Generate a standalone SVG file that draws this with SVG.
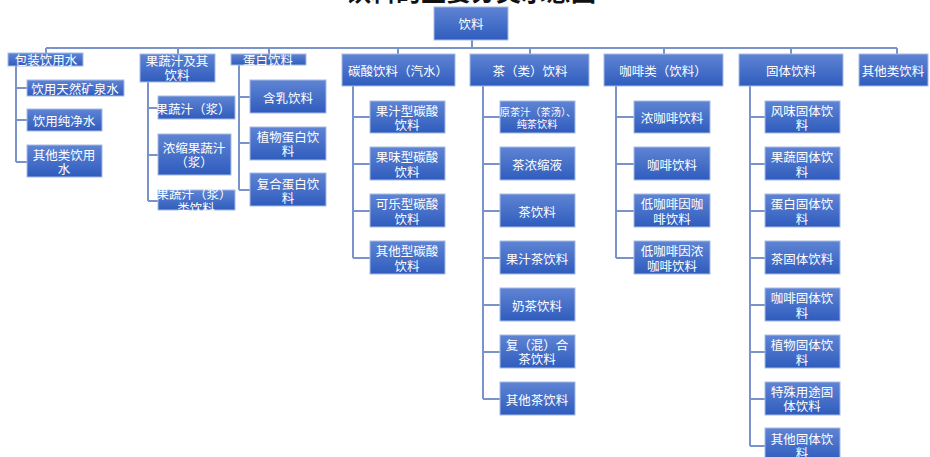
<svg xmlns="http://www.w3.org/2000/svg" width="930" height="457" viewBox="0 0 930 457">
<style>
.box{fill:url(#g);stroke:#a7bbe6;stroke-width:1}
.t{font-family:"Noto Sans CJK SC","Noto Sans",sans-serif;font-size:12.5px;fill:#ffffff;text-anchor:middle;dominant-baseline:central}
.s{font-size:10.2px}
.title{font-family:"Noto Sans CJK SC","Noto Sans",sans-serif;font-size:25px;font-weight:bold;fill:#111111;text-anchor:middle}
.c{fill:none;stroke:#7b93cb;stroke-width:2}
</style>
<defs>
<linearGradient id="g" x1="0" y1="0" x2="0" y2="1">
<stop offset="0" stop-color="#5f84d4"/>
<stop offset="1" stop-color="#2f5cbd"/>
</linearGradient>
</defs>
<rect x="0" y="0" width="930" height="457" fill="#ffffff"/>
<text class="title" x="471" y="1">饮料的主要分类示意图</text>
<g id="connectors">
<path class="c" d="M472 40V48M46 48H897M46 48V53M178 48V54M269 48V54M398 48V54M530 48V54M664 48V54M791 48V54M897 48V54"/>
<path class="c" d="M16 66V162M16 88H27M16 120H27M16 162H27"/>
<path class="c" d="M148 82V201M148 108H158M148 155H158M148 201H158"/>
<path class="c" d="M239 65V190M239 97H250M239 143H250M239 190H250"/>
<path class="c" d="M353 86V258M353 117H370M353 164H370M353 211H370M353 258H370"/>
<path class="c" d="M483 86V399M483 117H500M483 164H500M483 211H500M483 258H500M483 305H500M483 352H500M483 399H500"/>
<path class="c" d="M616 86V258M616 117H634M616 164H634M616 211H634M616 258H634"/>
<path class="c" d="M750 86V446M750 117H765M750 164H765M750 211H765M750 258H765M750 305H765M750 352H765M750 399H765M750 446H765"/>
</g>
<g id="root"><rect class="box" x="434" y="7" width="74" height="33"/><text class="t" x="471" y="23">饮料</text></g>
<g id="n1"><rect class="box" x="8" y="53" width="75" height="13"/><text class="t" x="46" y="59">包装饮用水</text></g>
<g id="n1a"><rect class="box" x="27" y="80" width="97" height="16"/><text class="t" x="75" y="88">饮用天然矿泉水</text></g>
<g id="n1b"><rect class="box" x="27" y="109" width="75" height="22"/><text class="t" x="64" y="120">饮用纯净水</text></g>
<g id="n1c"><rect class="box" x="27" y="145" width="75" height="32"/><text class="t" x="64" y="154">其他类饮用</text><text class="t" x="64" y="168">水</text></g>
<g id="n2"><rect class="box" x="140" y="54" width="75" height="28"/><text class="t" x="177" y="60">果蔬汁及其</text><text class="t" x="177" y="74">饮料</text></g>
<g id="n2a"><rect class="box" x="158" y="96" width="77" height="23"/><text class="t" x="193" y="108">果蔬汁（浆）</text></g>
<g id="n2b"><rect class="box" x="158" y="134" width="73" height="41"/><text class="t" x="194" y="147">浓缩果蔬汁</text><text class="t" x="194" y="161">（浆）</text></g>
<g id="n2c"><rect class="box" x="158" y="190" width="77" height="20"/><text class="t" x="194" y="193">果蔬汁（浆）</text><text class="t" x="196" y="207">类饮料</text></g>
<g id="n3"><rect class="box" x="231" y="54" width="75" height="11"/><text class="t" x="268" y="59">蛋白饮料</text></g>
<g id="n3a"><rect class="box" x="250" y="80" width="76" height="33"/><text class="t" x="288" y="97">含乳饮料</text></g>
<g id="n3b"><rect class="box" x="250" y="127" width="76" height="33"/><text class="t" x="288" y="136">植物蛋白饮</text><text class="t" x="288" y="150">料</text></g>
<g id="n3c"><rect class="box" x="250" y="173" width="76" height="33"/><text class="t" x="288" y="183">复合蛋白饮</text><text class="t" x="288" y="197">料</text></g>
<g id="n4"><rect class="box" x="342" y="54" width="113" height="32"/><text class="t" x="398" y="70">碳酸饮料（汽水）</text></g>
<g id="n4a"><rect class="box" x="370" y="101" width="75" height="32"/><text class="t" x="407" y="110">果汁型碳酸</text><text class="t" x="407" y="124">饮料</text></g>
<g id="n4b"><rect class="box" x="370" y="147" width="75" height="33"/><text class="t" x="407" y="156">果味型碳酸</text><text class="t" x="407" y="171">饮料</text></g>
<g id="n4c"><rect class="box" x="370" y="194" width="75" height="33"/><text class="t" x="407" y="203">可乐型碳酸</text><text class="t" x="407" y="218">饮料</text></g>
<g id="n4d"><rect class="box" x="370" y="241" width="75" height="33"/><text class="t" x="407" y="250">其他型碳酸</text><text class="t" x="407" y="265">饮料</text></g>
<g id="n5"><rect class="box" x="470" y="54" width="119" height="32"/><text class="t" x="530" y="70">茶（类）饮料</text></g>
<g id="n5a"><rect class="box" x="500" y="101" width="75" height="32"/><text class="t s" x="538" y="111">原茶汁（茶汤）、</text><text class="t s" x="537" y="123">纯茶饮料</text></g>
<g id="n5b"><rect class="box" x="500" y="147" width="75" height="33"/><text class="t" x="537" y="164">茶浓缩液</text></g>
<g id="n5c"><rect class="box" x="500" y="194" width="75" height="33"/><text class="t" x="537" y="211">茶饮料</text></g>
<g id="n5d"><rect class="box" x="500" y="241" width="75" height="33"/><text class="t" x="537" y="258">果汁茶饮料</text></g>
<g id="n5e"><rect class="box" x="500" y="288" width="75" height="33"/><text class="t" x="537" y="305">奶茶饮料</text></g>
<g id="n5f"><rect class="box" x="500" y="335" width="75" height="33"/><text class="t" x="537" y="344">复（混）合</text><text class="t" x="537" y="358">茶饮料</text></g>
<g id="n5g"><rect class="box" x="500" y="382" width="75" height="33"/><text class="t" x="537" y="399">其他茶饮料</text></g>
<g id="n6"><rect class="box" x="604" y="54" width="119" height="32"/><text class="t" x="663" y="70">咖啡类（饮料）</text></g>
<g id="n6a"><rect class="box" x="634" y="101" width="76" height="32"/><text class="t" x="672" y="117">浓咖啡饮料</text></g>
<g id="n6b"><rect class="box" x="634" y="147" width="76" height="33"/><text class="t" x="672" y="164">咖啡饮料</text></g>
<g id="n6c"><rect class="box" x="634" y="194" width="76" height="33"/><text class="t" x="672" y="203">低咖啡因咖</text><text class="t" x="672" y="218">啡饮料</text></g>
<g id="n6d"><rect class="box" x="634" y="241" width="76" height="33"/><text class="t" x="672" y="250">低咖啡因浓</text><text class="t" x="672" y="265">咖啡饮料</text></g>
<g id="n7"><rect class="box" x="739" y="54" width="104" height="32"/><text class="t" x="791" y="70">固体饮料</text></g>
<g id="n7a"><rect class="box" x="765" y="101" width="75" height="32"/><text class="t" x="802" y="110">风味固体饮</text><text class="t" x="802" y="124">料</text></g>
<g id="n7b"><rect class="box" x="765" y="147" width="75" height="33"/><text class="t" x="802" y="156">果蔬固体饮</text><text class="t" x="802" y="171">料</text></g>
<g id="n7c"><rect class="box" x="765" y="194" width="75" height="33"/><text class="t" x="802" y="203">蛋白固体饮</text><text class="t" x="802" y="218">料</text></g>
<g id="n7d"><rect class="box" x="765" y="241" width="75" height="33"/><text class="t" x="802" y="258">茶固体饮料</text></g>
<g id="n7e"><rect class="box" x="765" y="288" width="75" height="33"/><text class="t" x="802" y="297">咖啡固体饮</text><text class="t" x="802" y="312">料</text></g>
<g id="n7f"><rect class="box" x="765" y="335" width="75" height="33"/><text class="t" x="802" y="344">植物固体饮</text><text class="t" x="802" y="359">料</text></g>
<g id="n7g"><rect class="box" x="765" y="382" width="75" height="33"/><text class="t" x="802" y="391">特殊用途固</text><text class="t" x="802" y="405">体饮料</text></g>
<g id="n7h"><rect class="box" x="765" y="428" width="75" height="33"/><text class="t" x="802" y="438">其他固体饮</text><text class="t" x="802" y="452">料</text></g>
<g id="n8"><rect class="box" x="859" y="54" width="69" height="32"/><text class="t" x="893" y="70">其他类饮料</text></g>
</svg>
